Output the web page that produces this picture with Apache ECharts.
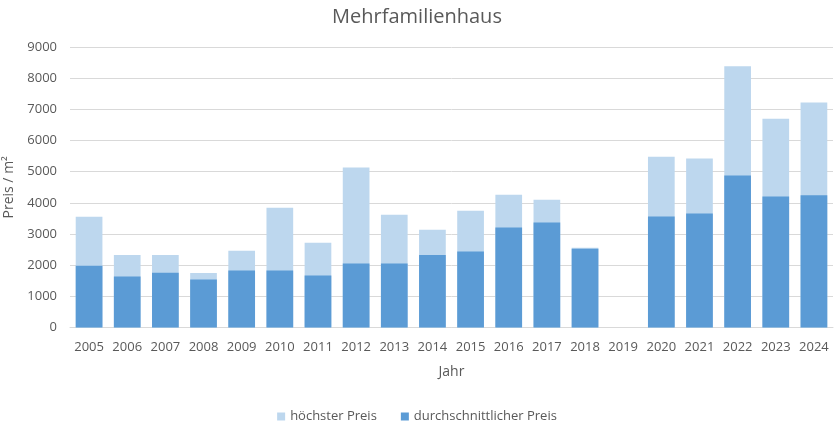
<!DOCTYPE html>
<html><head><meta charset="utf-8">
<script src="https://cdn.jsdelivr.net/npm/echarts@6/dist/echarts.min.js"></script>
<style>html,body{margin:0;padding:0;background:#fff}#c{width:834px;height:435px}</style>
</head><body><div id="c"></div>
<script>
const years = ['2005','2006','2007','2008','2009','2010','2011','2012','2013','2014','2015','2016','2017','2018','2019','2020','2021','2022','2023','2024'];
const hoechsterPreis = [3550,2330,2330,1750,2460,3840,2720,5130,3620,3140,3750,4260,4100,2560,null,5480,5420,8380,6700,7220];
const durchschnittPreis = [1980,1635,1760,1540,1830,1830,1665,2050,2050,2330,2440,3210,3370,2525,null,3565,3660,4880,4205,4240];
const yTicks = {min:0, max:9000, interval:1000};

const font = 'Open Sans';
const chart = echarts.init(document.getElementById('c'));
chart.setOption({
  animation:false,
  title:{text:'Mehrfamilienhaus', left:'center', top:2, textStyle:{fontFamily:font, fontSize:20, fontWeight:'normal', color:'#595959'}},
  legend:{bottom:7, left:'center', itemWidth:8, itemHeight:8, itemGap:24, icon:'rect',
    textStyle:{fontFamily:font, fontSize:13, color:'#595959'},
    data:['höchster Preis','durchschnittlicher Preis']},
  grid:{left:70, right:1, top:47, bottom:107.5, containLabel:false, outerBoundsMode:'none'},
  xAxis:{type:'category', data:years, name:'Jahr', nameLocation:'middle', nameGap:38,
    nameTextStyle:{fontFamily:font, fontSize:14, color:'#595959'},
    axisLine:{lineStyle:{color:'#d9d9d9'}}, axisTick:{show:false},
    axisLabel:{fontFamily:font, fontSize:13, color:'#595959', margin:13, interval:0}},
  yAxis:{type:'value', min:yTicks.min, max:yTicks.max, interval:yTicks.interval,
    name:'Preis / m²', nameLocation:'middle', nameGap:54,
    nameTextStyle:{fontFamily:font, fontSize:14, color:'#595959'},
    axisLine:{show:false}, axisTick:{show:false},
    splitLine:{lineStyle:{color:'#d9d9d9'}},
    axisLabel:{fontFamily:font, fontSize:13, color:'#595959', margin:13, formatter:v=>String(v)}},
  series:[
    {name:'höchster Preis', type:'bar', data:hoechsterPreis, barWidth:'70%', barGap:'-100%', itemStyle:{color:'#bdd7ee'}},
    {name:'durchschnittlicher Preis', type:'bar', data:durchschnittPreis, barWidth:'70%', itemStyle:{color:'#5b9bd5'}}
  ]
});
</script></body></html>
